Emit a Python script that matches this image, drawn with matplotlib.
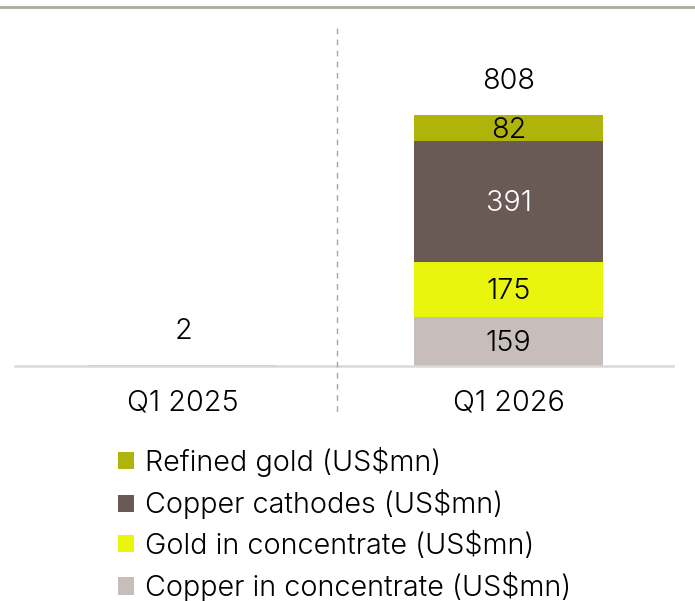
import matplotlib
matplotlib.use('Agg')
import matplotlib.pyplot as plt
from matplotlib.patches import Patch
from matplotlib.lines import Line2D
import numpy as np

plt.rcParams['font.family'] = ['Inter', 'DejaVu Sans']
plt.rcParams['font.weight'] = 300

# data
quarters = ["Q1 2025", "Q1 2026"]
series = [
    "Copper in concentrate (US$mn)",
    "Gold in concentrate (US$mn)",
    "Copper cathodes (US$mn)",
    "Refined gold (US$mn)",
]
copper_conc = [2, 159]
gold_conc = [0, 175]
copper_cath = [0, 391]
refined_gold = [0, 82]
totals = [2, 808]

colors = ["#c7bdbb", "#e9f50c", "#6a5a56", "#b0b40a"]
text_colors = ["black", "black", "white", "black"]
fs = 20.7

fig = plt.figure(figsize=(6.95, 6.01), dpi=100)
W, H = 695, 601
ax = fig.add_axes([15 / W, 1 - 366 / H, (673 - 15) / W, (366 - 7) / H])

x = np.arange(len(quarters))
bottom = np.zeros(len(quarters))
for vals, name, col, tcol in zip([copper_conc, gold_conc, copper_cath, refined_gold],
                                 series, colors, text_colors):
    vals = np.array(vals, dtype=float)
    ax.bar(x, vals, width=0.58, bottom=bottom, color=col, label=name)
    for xi, v, b in zip(x, vals, bottom):
        if v > 20:
            # nudge down a little so the digits sit optically centred
            ax.text(xi, b + v / 2 - 7, f"{v:.0f}", ha="center", va="center",
                    fontsize=fs, color=tcol)
    bottom += vals

for xi, t in zip(x, totals):
    ax.text(xi, t + 108, f"{t}", ha="center", va="center", fontsize=fs, color="black")

ax.set_xlim(-0.516, 1.505)
ax.set_ylim(0, 1156)
ax.set_xticks(x)
ax.set_xticklabels(quarters, fontsize=fs)
ax.tick_params(axis="x", length=0, pad=17)
ax.set_yticks([])
for s in ["top", "right", "left"]:
    ax.spines[s].set_visible(False)
ax.spines["bottom"].set_color("#d9d9d9")
ax.spines["bottom"].set_linewidth(1.8)
ax.spines["bottom"].set_zorder(5)

# dashed divider between the quarters
fig.add_artist(Line2D([337 / W, 337 / W], [1 - 28 / H, 1 - 412 / H],
                      color="#a6a6a6", linewidth=1, linestyle=(0, (4, 4))))
# top rule
fig.add_artist(Line2D([0, 1], [1 - 7 / H, 1 - 7 / H], color="#aaaaa2", linewidth=2))

handles = [Patch(facecolor=c, label=n) for c, n in zip(colors, series)][::-1]
fig.legend(handles=handles, loc="upper left", bbox_to_anchor=(118 / W, 1 - 447 / H),
           frameon=False, fontsize=fs, handlelength=0.55, handleheight=0.55,
           handletextpad=0.38, labelspacing=0.43, borderaxespad=0, borderpad=0)

fig.savefig("out.png", dpi=100)
